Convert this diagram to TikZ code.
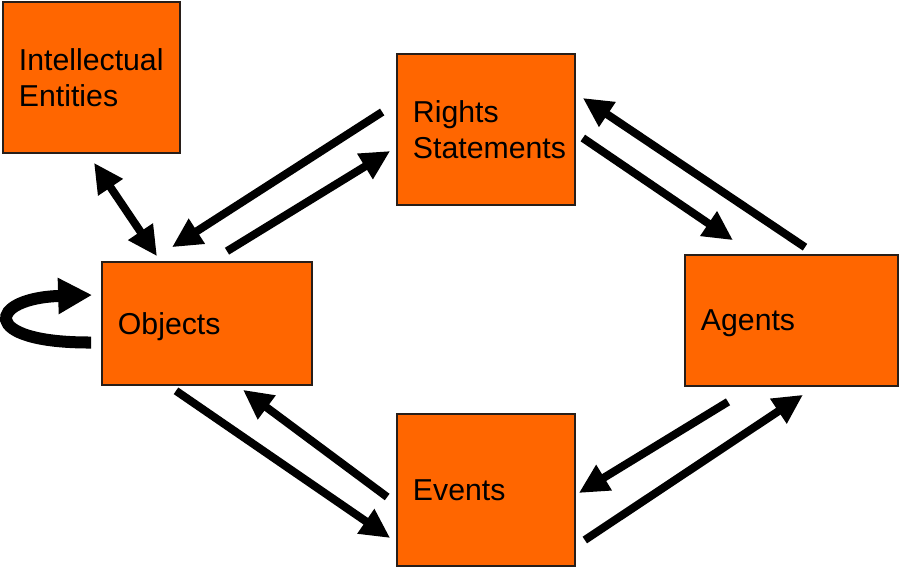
\documentclass[tikz,border=0pt]{standalone}
\usepackage{fontspec}
\setmainfont{Liberation Sans}
\usepackage{xcolor}
\usepackage{tikz}
\usetikzlibrary{arrows.meta, positioning, calc}
\definecolor{BoxOrange}{RGB}{255,102,0}
\definecolor{BoxEdge}{RGB}{40,30,25}

\begin{document}
\begin{tikzpicture}[x=0.025cm, y=-0.025cm,
          entity/.style={rectangle, draw=BoxEdge, line width=0.04cm,
                         fill=BoxOrange, inner xsep=0.4cm, align=left,
                         font=\fontsize{21.5}{25.8}\selectfont},
          arr/.style={-{Triangle[length=0.74cm, width=0.7cm]},
                      line width=0.2cm, black},
          dblarr/.style={{Triangle[length=0.74cm, width=0.7cm]}-{Triangle[length=0.74cm, width=0.7cm]},
                      line width=0.2cm, black}
        ]
        \useasboundingbox (0,0) rectangle (900,580);
        \fill[white] (0,0) rectangle (900,580);

        % Boxes
        \node[entity, text width=3.625cm, minimum height=3.775cm]
              (ie) at (91.5, 77.5) {Intellectual\\Entities};
        \node[entity, text width=3.65cm, minimum height=3.775cm]
              (rs) at (486, 129.5) {Rights\\Statements};
        \node[entity, text width=4.45cm, minimum height=3.075cm, text depth=0pt]
              (obj) at (207, 323.5) {Objects};
        \node[entity, text width=4.525cm, minimum height=3.275cm, text depth=0pt]
              (ag) at (791.5, 320.5) {Agents};
        \node[entity, text width=3.65cm, minimum height=3.8cm]
              (ev) at (486, 490) {Events};

        % Rights <-> Objects
        \draw[arr] ([shift={(-14,-17.5)}]rs.west) -- ([shift={(-35,-14)}]obj.north);
        \draw[arr] ([shift={(20,-10)}]obj.north) -- ([shift={(-6,21.5)}]rs.west);

        % Rights <-> Agents
        \draw[arr] ([shift={(13.5,-7)}]ag.north) -- ([shift={(7,-31.5)}]rs.east);
        \draw[arr] ([shift={(7,8.5)}]rs.east) -- ([shift={(-58.5,-14)}]ag.north);

        % Agents <-> Events
        \draw[arr] ([shift={(-63.5,15)}]ag.south) -- ([shift={(3,3)}]ev.east);
        \draw[arr] ([shift={(9,50)}]ev.east) -- ([shift={(11.5,8)}]ag.south);

        % Objects <-> Events
        \draw[arr] ([shift={(-31,5)}]obj.south) -- ([shift={(-6,48)}]ev.west);
        \draw[arr] ([shift={(-9,7)}]ev.west) -- ([shift={(36,4)}]obj.south);

        % Intellectual Entities <-> Objects
        \draw[dblarr] ([shift={(2.5,9)}]ie.south) -- ([shift={(-50,-5)}]obj.north);

        % self loop on Objects
        \draw[-{Triangle[length=0.85cm, width=0.85cm]}, line width=0.3cm]
              ([shift={(-10,19)}]obj.west) .. controls (-22,343) and (-12,298)
              .. ([shift={(-9,-28.5)}]obj.west);
      \end{tikzpicture}
\end{document}
